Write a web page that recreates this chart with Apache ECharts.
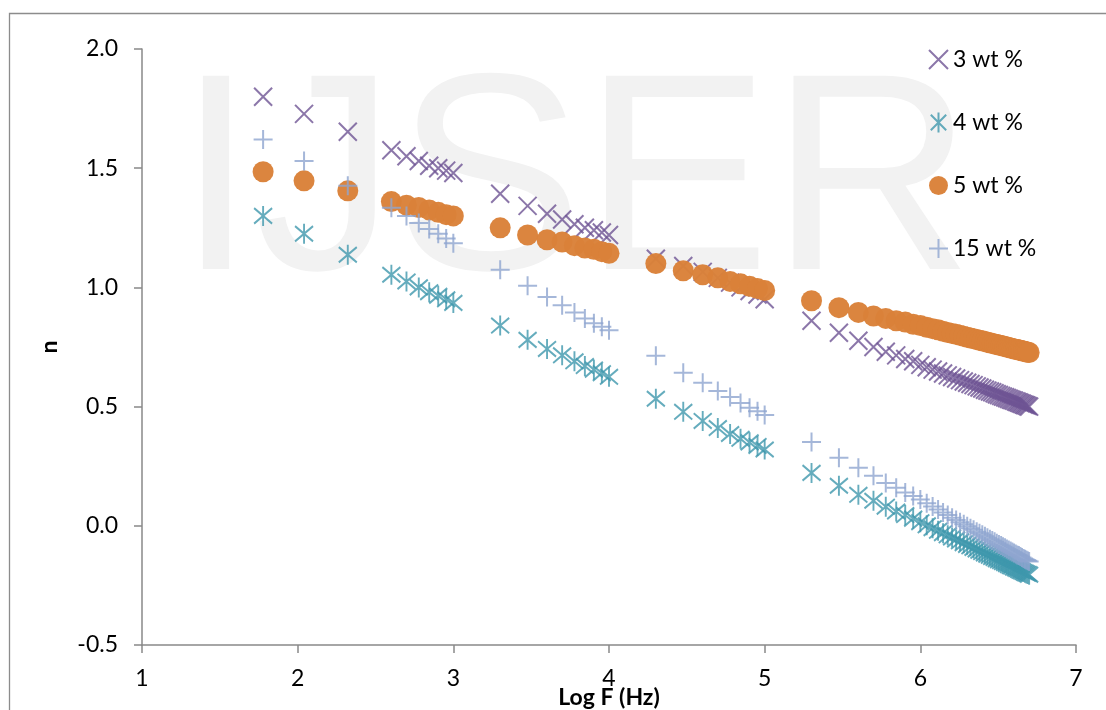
<!DOCTYPE html>
<html>
<head>
<meta charset="utf-8">
<script src="https://cdn.jsdelivr.net/npm/echarts@6/dist/echarts.min.js"></script>
<style>
html,body{margin:0;padding:0;background:#fff;}
#chart{width:1106px;height:710px;}
</style>
</head>
<body>
<div id="chart"></div>
<script>
// Log F (Hz) values of the measurement points
var logF = [1.778, 2.041, 2.322, 2.602, 2.699, 2.778, 2.845, 2.903, 2.954, 3.000,
  3.301, 3.477, 3.602, 3.699, 3.778, 3.845, 3.903, 3.954, 4.000,
  4.301, 4.477, 4.602, 4.699, 4.778, 4.845, 4.903, 4.954, 5.000,
  5.301, 5.477, 5.602, 5.699, 5.778, 5.845, 5.903, 5.954, 6.000,
  6.041, 6.079, 6.114, 6.146, 6.176, 6.204, 6.230, 6.255, 6.279, 6.301,
  6.322, 6.342, 6.362, 6.380, 6.398, 6.415, 6.431, 6.447, 6.462, 6.477,
  6.491, 6.505, 6.519, 6.531, 6.544, 6.556, 6.568, 6.580, 6.591, 6.602,
  6.613, 6.623, 6.633, 6.643, 6.653, 6.663, 6.672, 6.681, 6.690, 6.699];

var seriesNames = ['3 wt %', '4 wt %', '5 wt %', '15 wt %'];

var n3 = [1.80, 1.728, 1.653, 1.575, 1.55, 1.53, 1.51, 1.50, 1.49, 1.48,
  1.393, 1.342, 1.309, 1.285, 1.265, 1.25, 1.24, 1.23, 1.22,
  1.12, 1.09, 1.065, 1.04, 1.02, 1.00, 0.985, 0.97, 0.95,
  0.86, 0.81, 0.776, 0.75, 0.73, 0.715, 0.70, 0.69, 0.675,
  0.665, 0.655, 0.647, 0.639, 0.631, 0.624, 0.618, 0.611, 0.605, 0.600,
  0.595, 0.590, 0.585, 0.580, 0.576, 0.571, 0.567, 0.563, 0.560, 0.556,
  0.552, 0.549, 0.545, 0.542, 0.539, 0.536, 0.533, 0.530, 0.527, 0.525,
  0.522, 0.519, 0.517, 0.514, 0.512, 0.509, 0.507, 0.505, 0.502, 0.500];

var n4 = [1.30, 1.225, 1.137, 1.053, 1.025, 1.00, 0.98, 0.965, 0.95, 0.935,
  0.84, 0.78, 0.742, 0.715, 0.69, 0.67, 0.655, 0.64, 0.625,
  0.533, 0.478, 0.44, 0.41, 0.385, 0.365, 0.35, 0.335, 0.32,
  0.222, 0.168, 0.13, 0.105, 0.08, 0.06, 0.045, 0.03, 0.015,
  0.002, -0.010, -0.021, -0.031, -0.040, -0.049, -0.057, -0.065, -0.073, -0.080,
  -0.086, -0.093, -0.099, -0.105, -0.110, -0.116, -0.121, -0.126, -0.131, -0.135,
  -0.140, -0.144, -0.148, -0.152, -0.156, -0.160, -0.164, -0.168, -0.171, -0.175,
  -0.178, -0.181, -0.184, -0.188, -0.191, -0.194, -0.197, -0.200, -0.202, -0.205];

var n5 = [1.485, 1.447, 1.405, 1.36, 1.345, 1.335, 1.325, 1.315, 1.305, 1.30,
  1.25, 1.22, 1.20, 1.19, 1.175, 1.165, 1.16, 1.15, 1.143,
  1.10, 1.07, 1.053, 1.04, 1.025, 1.015, 1.005, 0.995, 0.987,
  0.944, 0.915, 0.895, 0.88, 0.87, 0.86, 0.855, 0.845, 0.84,
  0.833, 0.827, 0.822, 0.816, 0.811, 0.807, 0.803, 0.799, 0.795, 0.791,
  0.788, 0.785, 0.781, 0.778, 0.776, 0.773, 0.770, 0.768, 0.765, 0.763,
  0.760, 0.758, 0.756, 0.754, 0.752, 0.750, 0.748, 0.746, 0.744, 0.742,
  0.741, 0.739, 0.737, 0.736, 0.734, 0.733, 0.731, 0.730, 0.728, 0.727];

var n15 = [1.62, 1.53, 1.426, 1.334, 1.30, 1.27, 1.245, 1.225, 1.205, 1.185,
  1.074, 1.007, 0.96, 0.925, 0.895, 0.87, 0.85, 0.835, 0.82,
  0.713, 0.642, 0.60, 0.565, 0.54, 0.515, 0.495, 0.48, 0.465,
  0.352, 0.285, 0.243, 0.21, 0.18, 0.16, 0.14, 0.125, 0.11,
  0.095, 0.081, 0.068, 0.056, 0.045, 0.034, 0.024, 0.015, 0.006, -0.002,
  -0.010, -0.017, -0.025, -0.031, -0.038, -0.044, -0.050, -0.056, -0.062, -0.067,
  -0.073, -0.078, -0.083, -0.088, -0.092, -0.097, -0.101, -0.106, -0.110, -0.114,
  -0.118, -0.122, -0.125, -0.129, -0.133, -0.137, -0.140, -0.143, -0.147, -0.150];

function pairs(ys) { return logF.map(function (x, i) { return [x, ys[i]]; }); }

var FONT = 'Lato';
var chart = echarts.init(document.getElementById('chart'), null, {renderer: 'canvas'});

var crossPath = 'path://M0,0L10,10M10,0L0,10';
var starPath = 'path://M0,0L10,10M10,0L0,10M5,-1.5L5,11.5';
var plusPath = 'path://M0,5L10,5M5,0L5,10';

chart.setOption({
  animation: false,
  backgroundColor: '#fff',
  graphic: [
    {type: 'rect', z: -20, silent: true,
     shape: {x: 9.5, y: 13.5, width: 1200, height: 800},
     style: {fill: 'none', stroke: '#8c8c8c', lineWidth: 1.3}},
    {type: 'text', z: -10, silent: true, left: 177, top: 51,
     style: {text: 'IJSER', font: '281px "Liberation Sans"', fill: '#f2f2f2'}}
  ],
  grid: {left: 142, right: 30, top: 49, bottom: 65, containLabel: false, outerBoundsMode: 'none'},
  legend: {
    orient: 'vertical', left: 923, top: 43,
    itemWidth: 19, itemHeight: 20, itemGap: 40,
    textStyle: {fontFamily: FONT, fontSize: 23, color: '#000', lineHeight: 20},
    data: seriesNames
  },
  xAxis: {
    type: 'value', min: 1, max: 7, interval: 1,
    name: 'Log F (Hz)', nameLocation: 'middle', nameGap: 41, nameMoveOverlap: false,
    nameTextStyle: {fontFamily: FONT, fontSize: 23, fontWeight: 'bold', color: '#000'},
    axisLine: {show: true, onZero: false, lineStyle: {color: '#898989', width: 1.5}},
    axisTick: {show: true, inside: false, length: 8, lineStyle: {color: '#898989', width: 1.5}},
    axisLabel: {fontFamily: FONT, fontSize: 23, color: '#000', margin: 22},
    splitLine: {show: false}
  },
  yAxis: {
    type: 'value', min: -0.5, max: 2.0, interval: 0.5,
    name: 'n', nameLocation: 'middle', nameGap: 81, nameRotate: 90, nameMoveOverlap: false,
    nameTextStyle: {fontFamily: FONT, fontSize: 23, fontWeight: 'bold', color: '#000'},
    axisLine: {show: true, onZero: false, lineStyle: {color: '#898989', width: 1.5}},
    axisTick: {show: true, inside: false, length: 8, lineStyle: {color: '#898989', width: 1.5}},
    axisLabel: {fontFamily: FONT, fontSize: 23, color: '#000', margin: 24,
      formatter: function (v) { return v.toFixed(1); }},
    splitLine: {show: false}
  },
  series: [
    {name: seriesNames[0], type: 'scatter', data: pairs(n3), symbol: crossPath, symbolSize: 18,
     itemStyle: {color: 'rgba(0,0,0,0)', borderColor: '#6E5494', borderWidth: 2}},
    {name: seriesNames[1], type: 'scatter', data: pairs(n4), symbol: starPath, symbolSize: [18, 20],
     itemStyle: {color: 'rgba(0,0,0,0)', borderColor: '#3E97AD', borderWidth: 2}},
    {name: seriesNames[2], type: 'scatter', data: pairs(n5), symbol: 'circle', symbolSize: 21,
     itemStyle: {color: '#DA8139', opacity: 0.97}},
    {name: seriesNames[3], type: 'scatter', data: pairs(n15), symbol: plusPath, symbolSize: 19,
     itemStyle: {color: 'rgba(0,0,0,0)', borderColor: '#8FA5CF', borderWidth: 2}}
  ]
});
</script>
</body>
</html>
